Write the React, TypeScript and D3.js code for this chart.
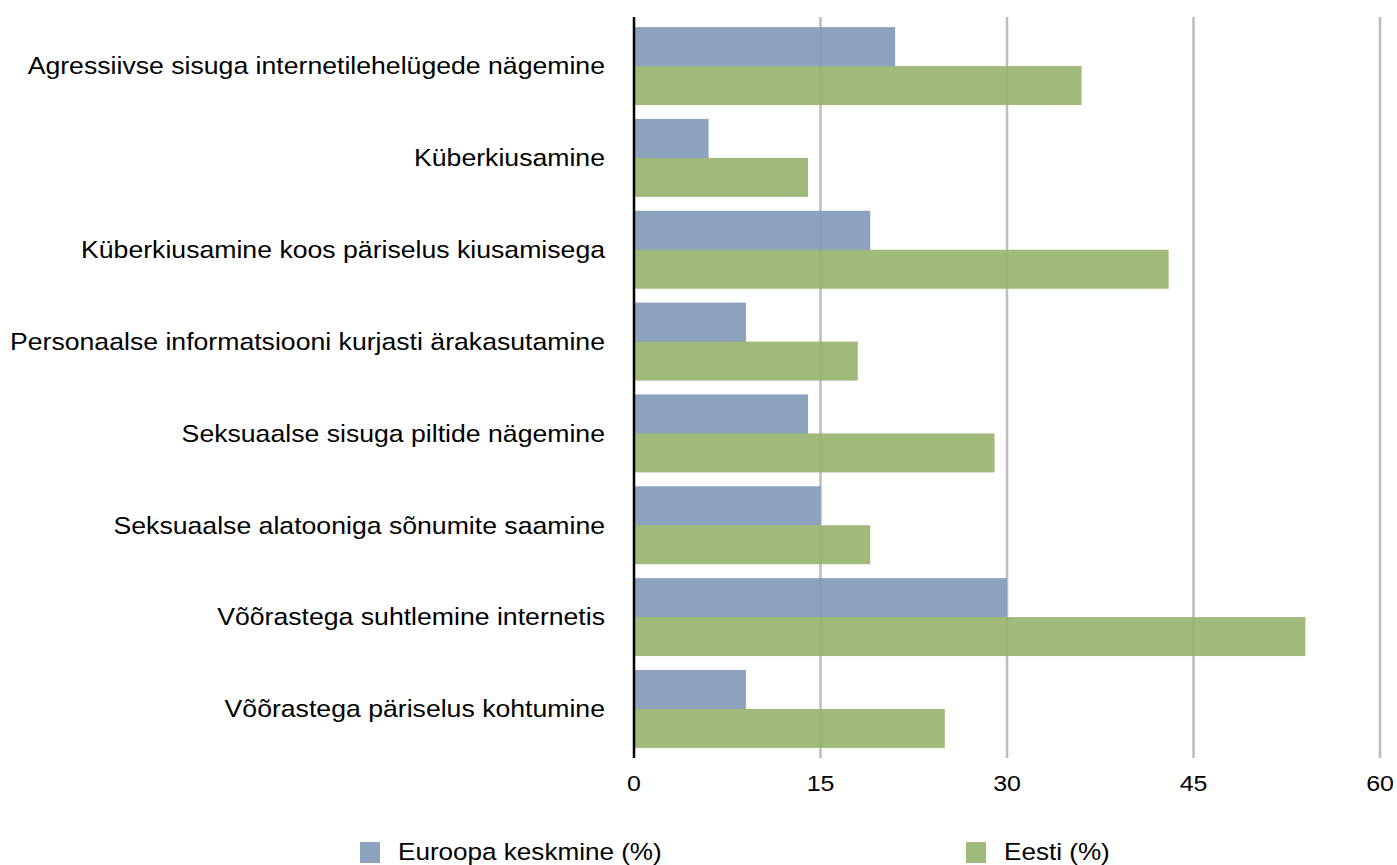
import React from "react";
import * as d3 from "d3";

const W = 1397;
const H = 865;

const categories = [
  "Agressiivse sisuga internetilehelügede nägemine",
  "Küberkiusamine",
  "Küberkiusamine koos päriselus kiusamisega",
  "Personaalse informatsiooni kurjasti ärakasutamine",
  "Seksuaalse sisuga piltide nägemine",
  "Seksuaalse alatooniga sõnumite saamine",
  "Võõrastega suhtlemine internetis",
  "Võõrastega päriselus kohtumine",
];
const europe = [21, 6, 19, 9, 14, 15, 30, 9];
const estonia = [36, 14, 43, 18, 29, 19, 54, 25];
const seriesNames = ["Euroopa keskmine (%)", "Eesti (%)"];
const xTicks = [0, 15, 30, 45, 60];

const BLUE = "#8098b6";
const GREEN = "#96b36d";
const FONT = "'Liberation Sans', Arial, Helvetica, sans-serif";
const SX = 1.11; // reference text is a bit wider than Arial

export default function App() {
  const x = d3.scaleLinear().domain([0, 60]).range([634, 1380]);
  const y = d3.scaleBand<string>().domain(categories).range([17, 758]).paddingInner(0.151).paddingOuter(0.11);
  const sub = d3.scaleBand<number>().domain([0, 1]).range([0, y.bandwidth()]);
  const series = [europe, estonia];
  const colors = [BLUE, GREEN];

  return (
    <svg width={W} height={H} style={{ position: "fixed", left: 0, top: 0, background: "#fff" }} fontFamily={FONT}>
      <rect width={W} height={H} fill="#fff" />
      {/* grid */}
      {xTicks.filter((t) => t > 0).map((t) => (
        <line key={t} x1={x(t)} x2={x(t)} y1={17} y2={758} stroke="#bdbdbd" strokeWidth={2.5} />
      ))}
      {/* bars */}
      {series.map((vals, s) =>
        vals.map((v, i) => (
          <rect
            key={s + "-" + i}
            x={x(0)}
            y={(y(categories[i]) as number) + (sub(s) as number)}
            width={x(v) - x(0)}
            height={sub.bandwidth() + (s === 0 ? 0.5 : 0)}
            fill={colors[s]}
            fillOpacity={0.9}
          />
        ))
      )}
      {/* axis line */}
      <line x1={x(0)} x2={x(0)} y1={17} y2={758} stroke="#000" strokeWidth={2.5} />
      {/* category labels */}
      {categories.map((c) => (
        <text
          key={c}
          transform={`translate(605,${(y(c) as number) + y.bandwidth() / 2}) scale(${SX},1)`}
          textAnchor="end"
          dy="0.35em"
          fontSize={24}
          fill="#000"
        >
          {c}
        </text>
      ))}
      {/* tick labels */}
      {xTicks.map((t) => (
        <text key={t} transform={`translate(${x(t)},791) scale(${SX},1)`} textAnchor="middle" fontSize={22.5} fill="#000">
          {t}
        </text>
      ))}
      {/* legend */}
      {seriesNames.map((n, i) => {
        const lx = i === 0 ? 360 : 966;
        return (
          <g key={n}>
            <rect x={lx} y={842} width={20} height={21} fill={colors[i]} fillOpacity={0.9} />
            <text transform={`translate(${lx + 38},860) scale(${SX},1)`} fontSize={23.5} fill="#000">
              {n}
            </text>
          </g>
        );
      })}
    </svg>
  );
}
